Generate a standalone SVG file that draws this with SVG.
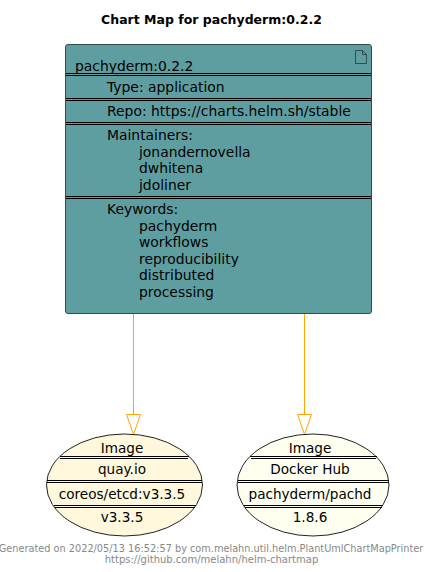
<svg xmlns="http://www.w3.org/2000/svg" width="429" height="572" viewBox="0 0 429 572">
<style>
text{font-family:"DejaVu Sans",sans-serif;font-size:13.900px;fill:#000}
.m{text-anchor:middle}
.t{font-weight:bold;font-size:12.500px}
.f{font-size:9.750px;fill:#888;text-anchor:middle}
.g{font-size:10px}
.i{font-size:13.600px}
.sep{stroke:#000;stroke-width:1;fill:none}
.edge{stroke:#FFA500;stroke-width:1;fill:none}
.head{stroke:#FFA500;stroke-width:1;fill:#fff}
</style>
<rect width="429" height="572" fill="#fff"/>
<text class="t m" x="211.500" y="24">Chart Map for pachyderm:0.2.2</text>
<g id="connectors">
<path class="edge" d="M133.500 314V414"/>
<path class="head" d="M126.500 414.500H140.500L133.500 434.500Z"/>
<path class="edge" d="M304.500 314V414"/>
<path class="head" d="M297.500 414.500H311.500L304.500 434.500Z"/>
</g>
<g id="chart">
<rect x="65.500" y="44.500" width="306" height="269" rx="2.500" fill="#5F9EA0" stroke="#2F4F4F"/>
<path d="M355.500 50.500V63.500H366.500V54.500L362.500 50.500ZM362.500 50.500V54.500H366.500" fill="none" stroke="#2F4F4F"/>
<path class="sep" d="M66 73.500H371M66 75.500H371M66 98.500H371M66 100.500H371M66 122.500H371M66 124.500H371M66 196.500H371M66 198.500H371"/>
<text x="75" y="71">pachyderm:0.2.2</text>
<text x="107" y="92">Type: application</text>
<text x="107" y="116">Repo: https://charts.helm.sh/stable</text>
<text x="107" y="140">Maintainers:</text>
<text x="139" y="157">jonandernovella</text>
<text x="139" y="173">dwhitena</text>
<text x="139" y="190">jdoliner</text>
<text x="107" y="214">Keywords:</text>
<text x="139" y="231">pachyderm</text>
<text x="139" y="247">workflows</text>
<text x="139" y="264">reproducibility</text>
<text x="139" y="280">distributed</text>
<text x="139" y="297">processing</text>
</g>
<g id="image-etcd">
<ellipse cx="124.500" cy="485" rx="78" ry="51" fill="#FFF8DC" stroke="#222"/>
<path class="sep" d="M60 456.500H189M60 458.500H188M47 480.500H202M47 482.500H202M54 505.500H196M55 507.500H195"/>
<text class="m i" x="122" y="453">Image</text>
<text class="m i" x="122" y="474">quay.io</text>
<text class="m i" x="122" y="499">coreos/etcd:v3.3.5</text>
<text class="m i" x="122" y="522">v3.3.5</text>
</g>
<g id="image-pachd">
<ellipse cx="313" cy="485" rx="76" ry="51" fill="#FFFFF0" stroke="#222"/>
<path class="sep" d="M250 456.500H377M251 458.500H376M238 480.500H389M238 482.500H389M244 505.500H383M245 507.500H382"/>
<text class="m i" x="310" y="453">Image</text>
<text class="m i" x="310" y="474">Docker Hub</text>
<text class="m i" x="310" y="499">pachyderm/pachd</text>
<text class="m i" x="310" y="522">1.8.6</text>
</g>
<text class="f" x="211" y="552">Generated on 2022/05/13 16:52:57 by com.melahn.util.helm.PlantUmlChartMapPrinter</text>
<text class="f g" x="211.500" y="563">https://github.com/melahn/helm-chartmap</text>
</svg>
